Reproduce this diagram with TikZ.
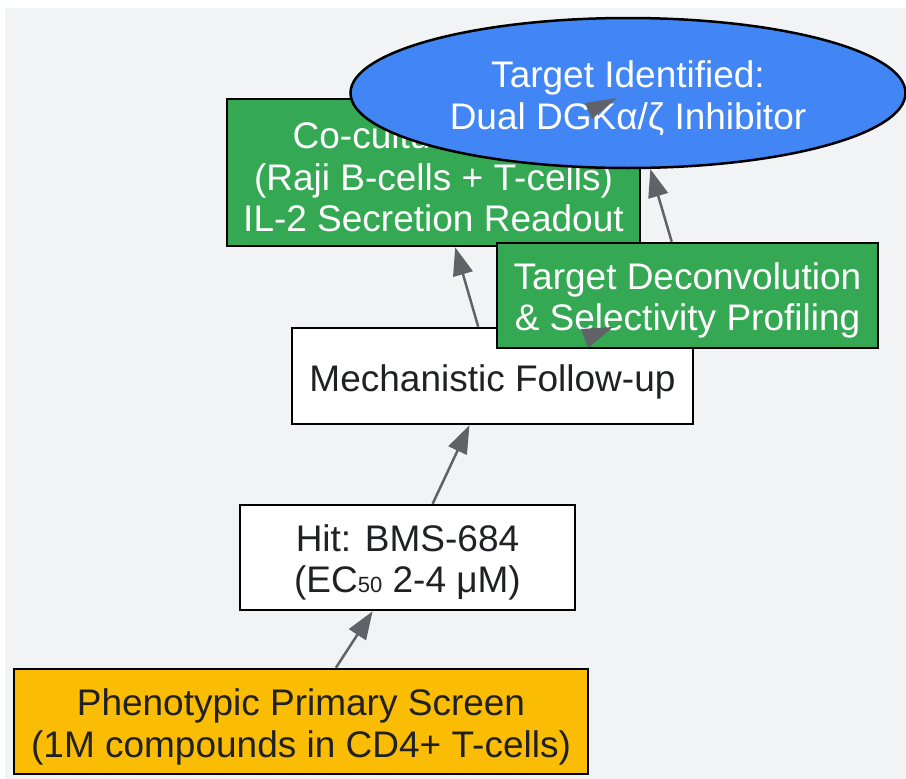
\documentclass[tikz,border=0pt]{standalone}
\usepackage{fontspec}
\setmainfont{Liberation Sans}
\usetikzlibrary{arrows.meta,shapes.geometric}
\definecolor{bggray}{HTML}{F1F3F4}
\definecolor{gyellow}{HTML}{FBBC04}
\definecolor{ggreen}{HTML}{34A853}
\definecolor{gblue}{HTML}{4285F4}
\definecolor{edgegray}{HTML}{5F6368}
\definecolor{txtdark}{HTML}{202124}
\tikzset{
  box/.style={rectangle, draw=black, line width=2.5pt, inner sep=0pt},
  whitebox/.style={box, fill=white},
  yellowbox/.style={box, fill=gyellow},
  greenbox/.style={box, fill=ggreen},
  bluell/.style={ellipse, draw=black, line width=2.5pt, fill=gblue, inner sep=0pt},
  lbl/.style={inner sep=0pt, align=center, font=\fontsize{37}{41.5}\selectfont},
  darklbl/.style={lbl, text=txtdark},
  lightlbl/.style={lbl, text=white},
  conn/.style={draw=edgegray, line width=2.5pt, -{Triangle[length=28pt,width=20pt]}},
  stubhead/.style={fill=edgegray}
}
\begin{document}
\begin{tikzpicture}[x=1pt,y=-1pt]
\useasboundingbox (0,0) rectangle (906,779);
\fill[bggray] (5,8) rectangle (906,779);

\node[greenbox, minimum width=413pt, minimum height=147pt] (coc) at (433.5,172.5) {};
\node[lightlbl] (coc-t) at (433.5,177)
  {Co-culture Assay\\(Raji B-cells + T-cells)\\IL-2 Secretion Readout};
\node[bluell, minimum width=555pt, minimum height=150pt] (ell) at (628,93) {};
\node[lightlbl] (ell-t) at (628,98.5) {Target Identified:\\Dual DGKα/ζ Inhibitor};
\node[whitebox, minimum width=401pt, minimum height=96pt] (mech) at (492.5,376) {};
\node[darklbl] (mech-t) at (492.5,381.5) {Mechanistic Follow-up};
\node[greenbox, minimum width=381pt, minimum height=105pt] (td) at (687.5,295.5) {};
\node[lightlbl] (td-t) at (687.5,300.5) {Target Deconvolution\\\& Selectivity Profiling};
\node[whitebox, minimum width=335pt, minimum height=105pt] (hit) at (407.5,557.5) {};
\node[darklbl] (hit-t) at (407.5,562.5)
  {Hit: BMS-684\\(EC{\fontsize{22}{22}\selectfont 50} 2-4 μM)};
\node[yellowbox, minimum width=574pt, minimum height=105pt] (ph) at (301,721.5) {};
\node[darklbl] (ph-t) at (301,727) {Phenotypic Primary Screen\\(1M compounds in CD4+ T-cells)};

\draw[conn] (ph) -- (hit);
\draw[conn] (hit) -- (mech);
\draw[conn] (mech) -- (coc);
\draw[conn] (td) -- (ell);

% stray arrowheads (edges whose lines are hidden)
\coordinate (a1l) at (585,103);
\coordinate (a1r) at (617,98);
\coordinate (a1t) at (592,119);
\coordinate (a2l) at (581,329);
\coordinate (a2r) at (613,327);
\coordinate (a2t) at (588,348);
\fill[stubhead] (a1l) -- (a1r) -- (a1t) -- cycle;
\fill[stubhead] (a2l) -- (a2r) -- (a2t) -- cycle;
\end{tikzpicture}
\end{document}
